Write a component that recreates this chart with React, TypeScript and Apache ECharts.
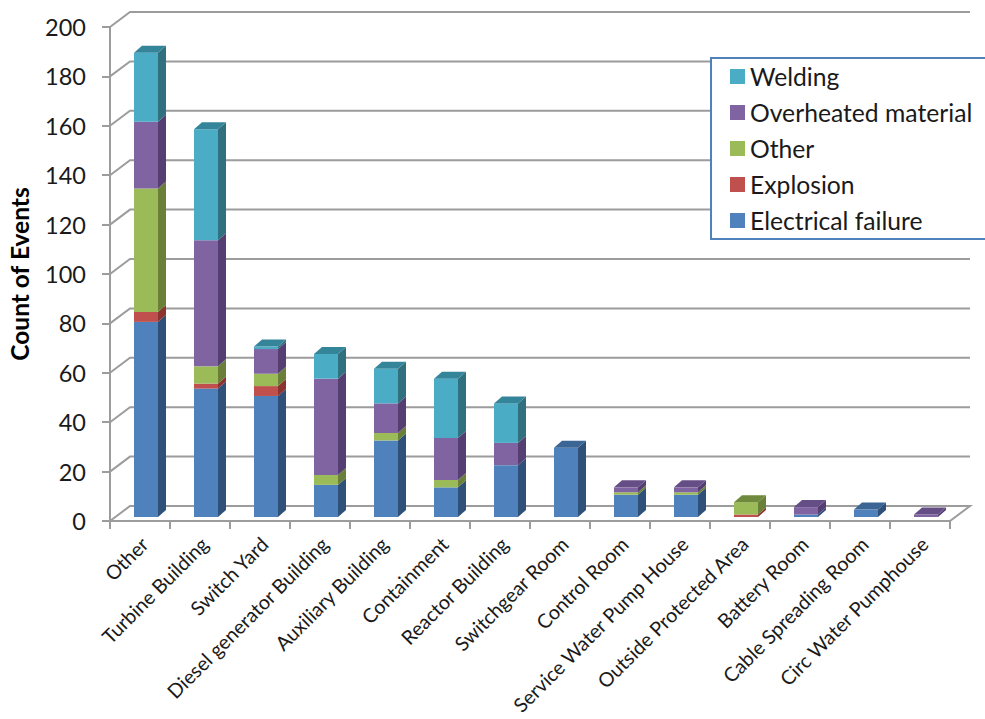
import React, { useEffect, useRef } from "react";
import * as echarts from "echarts";

const categories = [
  "Other",
  "Turbine Building",
  "Switch Yard",
  "Diesel generator Building",
  "Auxiliary Building",
  "Containment",
  "Reactor Building",
  "Switchgear Room",
  "Control Room",
  "Service Water Pump House",
  "Outside Protected Area",
  "Battery Room",
  "Cable Spreading Room",
  "Circ Water Pumphouse",
];

const electricalFailure = [79, 52, 49, 13, 31, 12, 21, 28, 9, 9, 0, 1, 3, 0];
const explosion = [4, 2, 4, 0, 0, 0, 0, 0, 0, 0, 1, 0, 0, 0];
const otherCause = [50, 7, 5, 4, 3, 3, 0, 0, 1, 1, 5, 0, 0, 0];
const overheatedMaterial = [27, 51, 10, 39, 12, 17, 9, 0, 2, 2, 0, 3, 0, 1];
const welding = [28, 45, 1, 10, 14, 24, 16, 0, 0, 0, 0, 0, 0, 0];

const yTicks = [0, 20, 40, 60, 80, 100, 120, 140, 160, 180, 200];

// Stack order, bottom to top, with the three shades of each box.
const stack = [
  { name: "Electrical failure", values: electricalFailure, front: "#4F81BD", side: "#2F5078", top: "#3A6595" },
  { name: "Explosion", values: explosion, front: "#C0504D", side: "#8C3330", top: "#A04240" },
  { name: "Other", values: otherCause, front: "#9BBB59", side: "#6A8038", top: "#6F8A3C" },
  { name: "Overheated material", values: overheatedMaterial, front: "#8064A2", side: "#553F72", top: "#654E85" },
  { name: "Welding", values: welding, front: "#4BACC6", side: "#30707F", top: "#35859A" },
];
const legendOrder = ["Welding", "Overheated material", "Other", "Explosion", "Electrical failure"];

// Oblique projection of the chart box.
const WALL_DX = 20;
const WALL_DY = -15;
const BAR_WIDTH = 24;
const BAR_SHIFT_X = 6;
const BAR_SHIFT_Y = -4;
const BAR_DEPTH_X = 8;
const BAR_DEPTH_Y = -7;
const WALL_COLOR = "#9C9C9C";
const FONT = "Lato";

function renderWallLine(params: any, api: any) {
  const grid = params.coordSys;
  const v = api.value(0);
  const y = api.coord([0, v])[1];
  const left = grid.x;
  const right = grid.x + grid.width;
  const points: number[][] = [
    [left, y],
    [left + WALL_DX, y + WALL_DY],
    [right + WALL_DX, y + WALL_DY],
  ];
  if (v === 0) points.push([right, y]);
  return {
    type: "polyline",
    shape: { points },
    style: { stroke: WALL_COLOR, lineWidth: 2, fill: "none" },
    silent: true,
  };
}

function renderBox(front: string, side: string, top: string) {
  return (_params: any, api: any) => {
    const cat = api.value(0);
    const lo = api.coord([cat, api.value(1)]);
    const hi = api.coord([cat, api.value(2)]);
    const isTop = api.value(3) === 1;
    const x0 = lo[0] + BAR_SHIFT_X - BAR_WIDTH / 2;
    const x1 = x0 + BAR_WIDTH;
    const y0 = lo[1] + BAR_SHIFT_Y;
    const y1 = hi[1] + BAR_SHIFT_Y;
    const children: any[] = [
      {
        type: "polygon",
        shape: {
          points: [
            [x1, y0],
            [x1 + BAR_DEPTH_X, y0 + BAR_DEPTH_Y],
            [x1 + BAR_DEPTH_X, y1 + BAR_DEPTH_Y],
            [x1, y1],
          ],
        },
        style: { fill: side },
      },
      {
        type: "polygon",
        shape: { points: [[x0, y0], [x1, y0], [x1, y1], [x0, y1]] },
        style: { fill: front },
      },
    ];
    if (isTop) {
      children.push({
        type: "polygon",
        shape: {
          points: [
            [x0, y1],
            [x1, y1],
            [x1 + BAR_DEPTH_X, y1 + BAR_DEPTH_Y],
            [x0 + BAR_DEPTH_X, y1 + BAR_DEPTH_Y],
          ],
        },
        style: { fill: top },
      });
    }
    return { type: "group", children };
  };
}

function boxRows(level: number) {
  const rows: number[][] = [];
  categories.forEach((_, i) => {
    const value = stack[level].values[i];
    if (value === 0) return;
    let base = 0;
    for (let k = 0; k < level; k++) base += stack[k].values[i];
    let above = 0;
    for (let k = level + 1; k < stack.length; k++) above += stack[k].values[i];
    rows.push([i, base, base + value, above === 0 ? 1 : 0]);
  });
  return rows;
}

export default function App() {
  const ref = useRef<HTMLDivElement>(null);

  useEffect(() => {
    const chart = echarts.init(ref.current!, undefined, { renderer: "svg" });
    chart.setOption({
      animation: false,
      backgroundColor: "#FFFFFF",
      textStyle: { fontFamily: FONT },
      grid: { left: 110, right: 35, top: 27, bottom: 198, outerBoundsMode: "none" },
      legend: {
        orient: "vertical",
        left: 711,
        top: 58,
        data: legendOrder,
        icon: "rect",
        itemWidth: 15,
        itemHeight: 15,
        itemGap: 11,
        padding: [6, 30, 6, 19],
        backgroundColor: "#FFFFFF",
        borderColor: "#4F81BD",
        borderWidth: 2,
        z: 20,
        selectedMode: false,
        textStyle: { fontFamily: FONT, fontSize: 24.7, color: "#1A1A1A", lineHeight: 20 },
      },
      xAxis: {
        type: "category",
        data: categories,
        boundaryGap: true,
        axisLine: { show: true, lineStyle: { color: WALL_COLOR, width: 2 } },
        axisTick: { show: true, alignWithLabel: false, length: 8, lineStyle: { color: WALL_COLOR, width: 2 } },
        axisLabel: {
          interval: 0,
          rotate: 45,
          margin: 15,
          verticalAlign: "top",
          lineHeight: 12,
          fontFamily: FONT,
          fontSize: 19.8,
          color: "#1A1A1A",
        },
        splitLine: { show: false },
      },
      yAxis: {
        type: "value",
        min: 0,
        max: 200,
        interval: 20,
        name: "Count of Events",
        nameLocation: "middle",
        nameGap: 78,
        nameRotate: 90,
        nameTextStyle: { fontFamily: FONT, fontSize: 24.5, fontWeight: "bold", color: "#000000" },
        axisLine: { show: true, lineStyle: { color: WALL_COLOR, width: 2 } },
        axisTick: { show: true, length: 8, lineStyle: { color: WALL_COLOR, width: 2 } },
        axisLabel: { margin: 24, fontFamily: FONT, fontSize: 23.5, color: "#1A1A1A" },
        splitLine: { show: false },
      },
      series: [
        {
          name: "wall",
          type: "custom",
          coordinateSystem: "cartesian2d",
          data: yTicks.map((v) => [v]),
          encode: { y: 0 },
          renderItem: renderWallLine,
          clip: false,
          silent: true,
          z: 1,
        },
        ...stack.map((s, level) => ({
          name: s.name,
          type: "custom",
          coordinateSystem: "cartesian2d",
          data: boxRows(level),
          encode: { x: 0, y: 2 },
          renderItem: renderBox(s.front, s.side, s.top),
          itemStyle: { color: s.front },
          clip: false,
          z: 5,
        })),
      ],
    });
    return () => chart.dispose();
  }, []);

  return (
    <div
      ref={ref}
      style={{ position: "fixed", left: 0, top: 0, width: 985, height: 719, background: "#FFFFFF" }}
    />
  );
}
